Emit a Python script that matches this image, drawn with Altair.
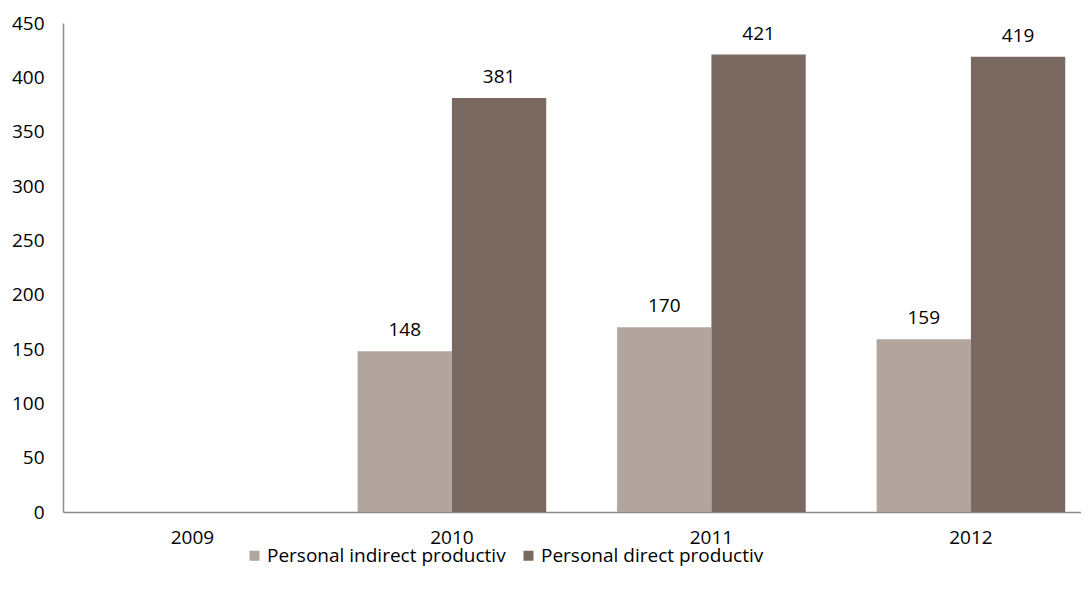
import altair as alt
import pandas as pd

years = ["2009", "2010", "2011", "2012"]
series_names = ["Personal indirect productiv", "Personal direct productiv"]
indirect = [None, 148, 170, 159]
direct = [None, 381, 421, 419]
colors = ["#B1A59E", "#7A6961"]

rows = []
for name, vals in zip(series_names, [indirect, direct]):
    for y, v in zip(years, vals):
        if v is not None:
            rows.append({"year": y, "series": name, "value": v})
df = pd.DataFrame(rows)

FONT = "Open Sans"

x = alt.X("year:N", scale=alt.Scale(domain=years, paddingInner=0.2732, paddingOuter=0.098, align=0.69),
          axis=alt.Axis(title=None, labelAngle=0, ticks=False, labelPadding=16, labelFontSize=19,
                        labelFont=FONT, labelColor="#000000", domainColor="#8C8C8C", domainWidth=1.5))
y = alt.Y("value:Q", scale=alt.Scale(domain=[0, 450], nice=False),
          axis=alt.Axis(title=None, values=list(range(0, 451, 50)), ticks=False, grid=False,
                        labelPadding=19, labelFontSize=19, labelFont=FONT, labelColor="#000000",
                        domainColor="#8C8C8C", domainWidth=1.5))

base = alt.Chart(df).encode(
    x=x,
    xOffset=alt.XOffset("series:N", sort=series_names, scale=alt.Scale(domain=series_names)),
    y=y,
)

bars = base.mark_bar().encode(
    color=alt.Color("series:N", sort=series_names,
                    scale=alt.Scale(domain=series_names, range=colors),
                    legend=alt.Legend(title=None, orient="none", direction="horizontal",
                                      legendX=182, legendY=523, symbolType="square", symbolSize=100,
                                      symbolStrokeWidth=0, labelFontSize=19, labelFont=FONT,
                                      labelColor="#000000", labelOffset=3, columnPadding=13, padding=0,
                                      labelLimit=0))
)

labels = base.mark_text(baseline="alphabetic", dy=-15, fontSize=19, font=FONT, color="#000000").encode(
    text=alt.Text("value:Q")
)

chart = (bars + labels).properties(
    width=1018, height=489,
    padding={"left": 55, "top": 15, "right": 0, "bottom": 70},
    autosize=alt.AutoSizeParams(type="none"),
).configure_view(stroke=None).configure_legend(
    symbolStrokeWidth=0
)

chart.save("out.html", embed_options={"renderer": "svg", "actions": False})
